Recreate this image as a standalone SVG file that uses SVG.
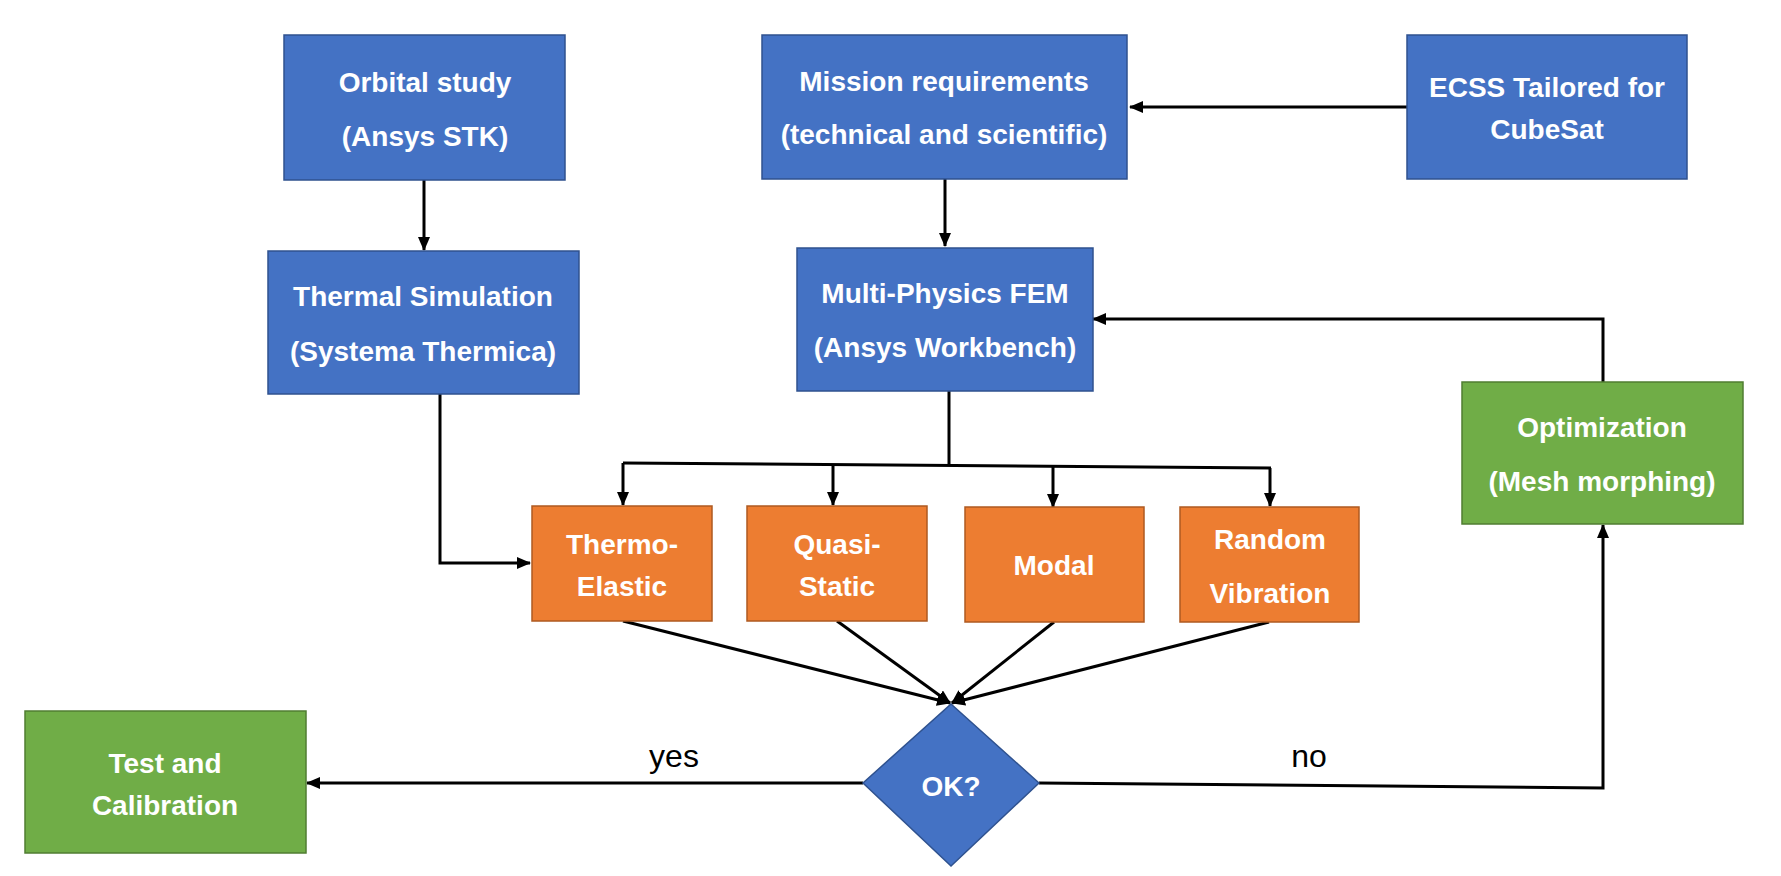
<svg xmlns="http://www.w3.org/2000/svg" width="1781" height="876" viewBox="0 0 1781 876">
<style>
.blue{fill:#4472C4;stroke:#2F528F;stroke-width:1.5}
.orange{fill:#ED7D31;stroke:#AE5A21;stroke-width:1.5}
.green{fill:#70AD47;stroke:#507E32;stroke-width:1.5}
.t{font-family:"Liberation Sans",Arial,sans-serif;font-weight:bold;font-size:28px;fill:#fff;text-anchor:middle}
.lbl{font-family:"Liberation Sans",Arial,sans-serif;font-size:32px;fill:#000;text-anchor:middle}
.c{fill:none;stroke:#000;stroke-width:3}
</style>
<defs>
<marker id="ah" markerUnits="userSpaceOnUse" markerWidth="14" markerHeight="12" viewBox="0 0 14 12" refX="13" refY="6" orient="auto">
<path d="M0,0 L14,6 L0,12 Z" fill="#000"/>
</marker>
</defs>
<rect width="1781" height="876" fill="#fff"/>
<g id="connectors">
<path class="c" d="M424,180 L424,250" marker-end="url(#ah)"/>
<path class="c" d="M1407,107 L1130,107" marker-end="url(#ah)"/>
<path class="c" d="M945,179 L945,246" marker-end="url(#ah)"/>
<path class="c" d="M1603,382 L1603,319 L1093,319" marker-end="url(#ah)"/>
<path class="c" d="M440,394 L440,563 L530,563" marker-end="url(#ah)"/>
<path class="c" d="M949,391 L949,465"/>
<path class="c" d="M623,463 L1271,468"/>
<path class="c" d="M623,463 L623,505" marker-end="url(#ah)"/>
<path class="c" d="M833,464 L833,505" marker-end="url(#ah)"/>
<path class="c" d="M1053,466 L1053,507" marker-end="url(#ah)"/>
<path class="c" d="M1270,468 L1270,506" marker-end="url(#ah)"/>
<path class="c" d="M623,621 L950,703" marker-end="url(#ah)"/>
<path class="c" d="M837,621 L950,703" marker-end="url(#ah)"/>
<path class="c" d="M1054,622 L952,703" marker-end="url(#ah)"/>
<path class="c" d="M1269,622 L952,703" marker-end="url(#ah)"/>
<path class="c" d="M863,783 L307,783" marker-end="url(#ah)"/>
<path class="c" d="M1039,783 L1603,788 L1603,525" marker-end="url(#ah)"/>
<text class="lbl" x="674" y="767">yes</text>
<text class="lbl" x="1309" y="767">no</text>
</g>
<g id="orbital">
<rect class="blue" x="284" y="35" width="281" height="145"/>
<text class="t" x="425" y="92">Orbital study</text>
<text class="t" x="425" y="146">(Ansys STK)</text>
</g>
<g id="thermal">
<rect class="blue" x="268" y="251" width="311" height="143"/>
<text class="t" x="423" y="306">Thermal Simulation</text>
<text class="t" x="423" y="361">(Systema Thermica)</text>
</g>
<g id="mission">
<rect class="blue" x="762" y="35" width="365" height="144"/>
<text class="t" x="944" y="91">Mission requirements</text>
<text class="t" x="944" y="144">(technical and scientific)</text>
</g>
<g id="ecss">
<rect class="blue" x="1407" y="35" width="280" height="144"/>
<text class="t" x="1547" y="97">ECSS Tailored for</text>
<text class="t" x="1547" y="139">CubeSat</text>
</g>
<g id="multiphysics">
<rect class="blue" x="797" y="248" width="296" height="143"/>
<text class="t" x="945" y="303">Multi-Physics FEM</text>
<text class="t" x="945" y="357">(Ansys Workbench)</text>
</g>
<g id="optimization">
<rect class="green" x="1462" y="382" width="281" height="142"/>
<text class="t" x="1602" y="437">Optimization</text>
<text class="t" x="1602" y="491">(Mesh morphing)</text>
</g>
<g id="thermoelastic">
<rect class="orange" x="532" y="506" width="180" height="115"/>
<text class="t" x="622" y="554">Thermo-</text>
<text class="t" x="622" y="596">Elastic</text>
</g>
<g id="quasistatic">
<rect class="orange" x="747" y="506" width="180" height="115"/>
<text class="t" x="837" y="554">Quasi-</text>
<text class="t" x="837" y="596">Static</text>
</g>
<g id="modal">
<rect class="orange" x="965" y="507" width="179" height="115"/>
<text class="t" x="1054" y="575">Modal</text>
</g>
<g id="random">
<rect class="orange" x="1180" y="507" width="179" height="115"/>
<text class="t" x="1270" y="549">Random</text>
<text class="t" x="1270" y="603">Vibration</text>
</g>
<g id="test">
<rect class="green" x="25" y="711" width="281" height="142"/>
<text class="t" x="165" y="773">Test and</text>
<text class="t" x="165" y="815">Calibration</text>
</g>
<g id="ok">
<polygon class="blue" points="951,704 1039,783 951,866 863,783" stroke-width="1"/>
<text class="t" x="951" y="796" font-size="27">OK?</text>
</g>
</svg>
